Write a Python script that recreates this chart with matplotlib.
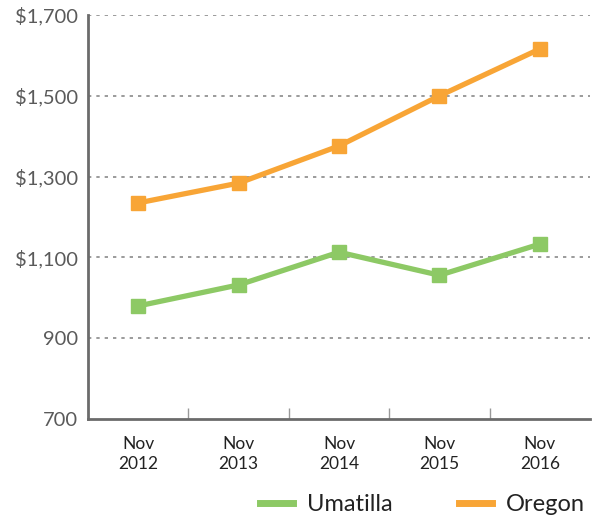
import matplotlib
matplotlib.use('Agg')
import matplotlib.pyplot as plt
from matplotlib.ticker import FixedLocator

CATEGORIES = ['Nov\n2012', 'Nov\n2013', 'Nov\n2014', 'Nov\n2015', 'Nov\n2016']
UMATILLA = [980, 1032, 1113, 1056, 1133]
OREGON = [1235, 1284, 1376, 1500, 1616]
Y_TICKS = [700, 900, 1100, 1300, 1500, 1700]
Y_LABELS = ['700', '900', '$1,100', '$1,300', '$1,500', '$1,700']

GREEN = '#8dc965'
ORANGE = '#f8a536'
AXIS_GREY = '#6b6b6b'

plt.rcParams['font.family'] = ['Lato', 'DejaVu Sans']

fig = plt.figure(figsize=(5.99, 5.18), dpi=100)
ax = fig.add_axes([0.147, 0.191, 0.838, 0.780])

x = range(len(CATEGORIES))
ax.plot(x, UMATILLA, color=GREEN, lw=3.8, marker='s', markersize=9.5,
        label='Umatilla', solid_joinstyle='miter')
ax.plot(x, OREGON, color=ORANGE, lw=3.8, marker='s', markersize=9.5,
        label='Oregon', solid_joinstyle='miter')

ax.set_xlim(-0.5, len(CATEGORIES) - 0.5)
ax.set_ylim(700, 1700)

ax.set_yticks(Y_TICKS)
ax.set_yticklabels(Y_LABELS, color='#5a5a5a', fontsize=14.5)
ax.tick_params(axis='y', length=0, pad=7)

ax.set_xticks(list(x))
ax.set_xticklabels(CATEGORIES, fontsize=12.5, color='#222222', linespacing=1.3)
ax.tick_params(axis='x', which='major', length=0, pad=12)
ax.xaxis.set_minor_locator(FixedLocator([i + 0.5 for i in range(len(CATEGORIES) - 1)]))
ax.tick_params(axis='x', which='minor', direction='in', length=8, width=1, color='#999999')

for yv in Y_TICKS[1:]:
    ax.axhline(yv, color='#8a8a8a', lw=1.2, ls=(0, (2, 3)), zorder=0)

for side in ['top', 'right']:
    ax.spines[side].set_visible(False)
for side in ['left', 'bottom']:
    ax.spines[side].set_color(AXIS_GREY)
    ax.spines[side].set_linewidth(2)

leg = fig.legend(loc='lower right', bbox_to_anchor=(1.012, -0.035), ncol=2, frameon=False,
                 fontsize=17, handlelength=1.4, handletextpad=0.6, columnspacing=2.8)
for h in leg.legend_handles:
    h.set_marker('')
    h.set_linewidth(5)
for t in leg.get_texts():
    t.set_color('#222222')

fig.savefig('out.png', dpi=100)
